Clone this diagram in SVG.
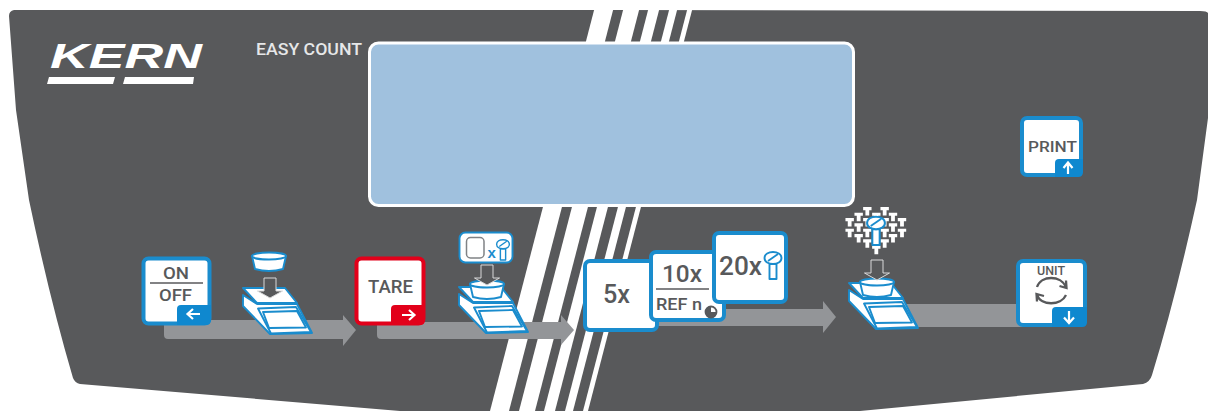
<svg xmlns="http://www.w3.org/2000/svg" width="1208" height="411" viewBox="0 0 1208 411">
<style>
.t{font-family:Roboto,"Liberation Sans",Arial,sans-serif;font-weight:500;fill:#58595b}
.btn{fill:#fff;stroke:#1a8ccd;stroke-width:4}
.red{fill:#fff;stroke:#e2001a;stroke-width:4}
.tab{fill:#0f88cf}
.ln{stroke:#58595b;stroke-width:1.6;fill:none}
.ar{stroke:#fff;stroke-width:2.2;fill:none}
.bl{fill:#fff;stroke:#1a8ccd;stroke-width:1.900;stroke-linejoin:round}
.conn{fill:#939598}
.st{fill:#fff}
</style>
<defs>
<g id="scale">
<path class="bl" d="M243 295L257 304H297L312 333L270 334L243 306Z"/>
<path class="bl" d="M243 288H285L297 303H257Z"/>
<path class="bl" d="M258 308.500L296 307L311 332L271 333.500Z"/>
<path class="bl" d="M263 312L297 311L306 327.500L269 328Z"/>
</g>
<g id="bowl">
<path class="bl" d="M-17 0L-14 13Q0 17 14 13L17 0Z"/>
<ellipse class="bl" cx="0" cy="0" rx="17" ry="3.500"/>
</g>
<path id="down" d="M-6 -14H6V-1H12.500L0 6L-12.500 -1H-6Z" fill="#58595b" stroke="#d8d9da" stroke-width="1"/>
<g id="screw">
<path class="bl" d="M-3.500 5V20H3.500V5Z"/>
<path class="bl" d="M-8.500 -1C-8.500 -9 8.500 -9 8.500 -1C8.500 7 -8.500 7 -8.500 -1Z"/>
<path d="M-5 2L5 -5" stroke="#1a8ccd" stroke-width="1.800" fill="none"/>
</g>
<path id="nail" class="st" d="M-4.200 0H4.200V3.200H1.900V8.500H-1.900V3.200H-4.200Z"/>
</defs>

<path id="panel" fill="#58595b" d="M14 10L600 10L1200 11Q1207 11 1208 13V118L1197 200Q1175 300 1152 375Q1150 382 1143 384L860 411H400L80 384Q75 383 73 378Q50 300 29 200L16 110L9 16Q9 11 14 10Z"/>

<g id="stripes">
<polygon class="st" points="594.100,10 613.100,10 509,411 490,411"/>
<polygon class="st" points="623.100,10 639.100,10 535,411 519,411"/>
<polygon class="st" points="648.100,10 659.100,10 555,411 544,411"/>
<polygon class="st" points="669.100,10 677.100,10 573,411 565,411"/>
<polygon class="st" points="687.100,10 692.100,10 588,411 583,411"/>
</g>

<rect id="display" x="369.500" y="43" width="484" height="162.500" rx="9" fill="#a0c1de" stroke="#fff" stroke-width="3"/>

<g id="logo">
<text x="50" y="68" font-family="Liberation Sans,Arial,sans-serif" font-weight="bold" font-style="italic" font-size="35" fill="#fff" textLength="152" lengthAdjust="spacingAndGlyphs">KERN</text>
<polygon class="st" points="49,77 115,77 113,84 47,84"/>
<polygon class="st" points="125,77 194,77 193,84 123,84"/>
</g>
<text id="model" class="t" x="256" y="55" font-size="16" style="fill:#e6e7e8" textLength="106" lengthAdjust="spacingAndGlyphs">EASY COUNT</text>

<g id="connectors">
<path class="conn" d="M164 320H343V315L356 330L343 346V339H168Q164 339 164 335Z"/>
<path class="conn" d="M377 322H561V315L574 330L561 345V339H381Q377 339 377 335Z"/>
<path class="conn" d="M650 309H823V301L836 317L823 333V326H650Z"/>
<path class="conn" d="M900 304H1030V327H900Z"/>
</g>

<g id="btn-onoff">
<rect class="btn" x="143.500" y="258.500" width="66" height="65" rx="5"/>
<path class="tab" d="M177 323V309Q177 305 181 305H211V320Q211 325 206 325H177Z"/>
<path class="ar" d="M200 314H188M193 309L187.500 314L193 319"/>
<text class="t" x="176" y="279" font-size="17" text-anchor="middle" textLength="26" lengthAdjust="spacingAndGlyphs">ON</text>
<path class="ln" d="M150 283H203"/>
<text class="t" x="175.500" y="301" font-size="17" text-anchor="middle" textLength="33" lengthAdjust="spacingAndGlyphs">OFF</text>
</g>

<g id="scale1">
<use href="#bowl" transform="translate(269 256)"/>
<use href="#scale"/>
<use href="#down" transform="translate(270 292)"/>
</g>

<g id="btn-tare">
<rect class="red" x="356.500" y="258.500" width="67" height="65" rx="5"/>
<path class="tab" style="fill:#e2001a" d="M391 323V309Q391 305 395 305H425V320Q425 325 420 325H391Z"/>
<path class="ar" d="M402 315H414M409 310L414.500 315L409 320"/>
<text class="t" x="390.500" y="293" font-size="18" text-anchor="middle" textLength="45" lengthAdjust="spacingAndGlyphs">TARE</text>
</g>

<g id="scale2">
<rect class="bl" x="459.500" y="232.500" width="53" height="30" rx="6"/>
<rect x="466.500" y="237.500" width="17.500" height="20.500" rx="4" fill="none" stroke="#808285" stroke-width="1.500"/>
<text x="487.500" y="258" font-family="Liberation Sans,Arial,sans-serif" font-weight="bold" font-size="15" fill="#1a8ccd">x</text>
<use href="#screw" transform="translate(503 245) scale(0.75)"/>
<use href="#scale" transform="translate(216 -1)"/>
<use href="#bowl" transform="translate(487 284)"/>
<use href="#down" transform="translate(487 279)"/>
</g>

<g id="btn-5x">
<rect class="btn" x="585" y="261" width="72" height="69" rx="5"/>
<text class="t" x="616.500" y="303" font-size="25" text-anchor="middle" textLength="27" lengthAdjust="spacingAndGlyphs">5x</text>
</g>
<g id="btn-10x">
<rect class="btn" x="651" y="252" width="73" height="68" rx="5"/>
<text class="t" x="682" y="282" font-size="23" text-anchor="middle" textLength="40" lengthAdjust="spacingAndGlyphs">10x</text>
<path class="ln" d="M656 289H709"/>
<text class="t" x="656" y="310" font-size="16" textLength="46" lengthAdjust="spacingAndGlyphs">REF n</text>
<circle cx="711" cy="312" r="5.500" fill="#fff" stroke="#58595b" stroke-width="1.800"/>
<path d="M711 312V306.500A5.500 5.500 0 1 0 716.500 312Z" fill="#58595b"/>
</g>
<g id="btn-20x">
<rect class="btn" x="714" y="233" width="72" height="69" rx="5"/>
<text class="t" x="719" y="275" font-size="25" textLength="43" lengthAdjust="spacingAndGlyphs">20x</text>
<use href="#screw" transform="translate(773 259)"/>
</g>

<g id="scale3">
<g transform="translate(838 200) scale(.3333)">
<use href="#nail" transform="translate(88 21) scale(3)"/><use href="#nail" transform="translate(140 21) scale(3)"/>
<use href="#nail" transform="translate(62 38) scale(3)"/><use href="#nail" transform="translate(115 38) scale(3)"/><use href="#nail" transform="translate(165 38) scale(3)"/>
<use href="#nail" transform="translate(35 54) scale(3)"/><use href="#nail" transform="translate(88 54) scale(3)"/><use href="#nail" transform="translate(140 54) scale(3)"/><use href="#nail" transform="translate(192 54) scale(3)"/>
<use href="#nail" transform="translate(62 70) scale(3)"/><use href="#nail" transform="translate(165 70) scale(3)"/>
<use href="#nail" transform="translate(35 86) scale(3)"/><use href="#nail" transform="translate(88 86) scale(3)"/><use href="#nail" transform="translate(140 86) scale(3)"/><use href="#nail" transform="translate(192 86) scale(3)"/>
<use href="#nail" transform="translate(62 102) scale(3)"/><use href="#nail" transform="translate(165 102) scale(3)"/>
<use href="#nail" transform="translate(88 118) scale(3)"/><use href="#nail" transform="translate(140 118) scale(3)"/>
<use href="#nail" transform="translate(115 137) scale(3)"/>
</g>
<use href="#screw" transform="translate(876 224) scale(1.050)"/>
<use href="#scale" transform="translate(606 -5)"/>
<use href="#bowl" transform="translate(877 282)"/>
<use href="#down" transform="translate(877 274)"/>
</g>

<g id="btn-unit">
<rect class="btn" x="1018" y="261" width="67" height="64" rx="5"/>
<path class="tab" d="M1052 325V311Q1052 307 1056 307H1087V322Q1087 327 1082 327H1052Z"/>
<path class="ar" d="M1069 311V322M1064 317.500L1069 323L1074 317.500"/>
<text class="t" x="1051" y="275" font-size="13" text-anchor="middle" textLength="28" lengthAdjust="spacingAndGlyphs">UNIT</text>
<path d="M1037 287C1041 275 1061 275 1066 287M1066 280.500L1066.500 288L1059.500 286" fill="none" stroke="#58595b" stroke-width="2.300"/>
<path d="M1066 295C1061 306 1041 306 1037 295M1037 301.500L1036.500 294L1044 296" fill="none" stroke="#58595b" stroke-width="2.300"/>
</g>

<g id="btn-print">
<rect class="btn" x="1022" y="118" width="59" height="57" rx="5"/>
<path class="tab" d="M1055 175V163Q1055 159 1059 159H1083V172Q1083 177 1078 177H1055Z"/>
<path class="ar" d="M1068 174V163M1063.500 168L1068 162.500L1072.500 168"/>
<text class="t" x="1028" y="152" font-size="15.500" textLength="49" lengthAdjust="spacingAndGlyphs">PRINT</text>
</g>
</svg>
